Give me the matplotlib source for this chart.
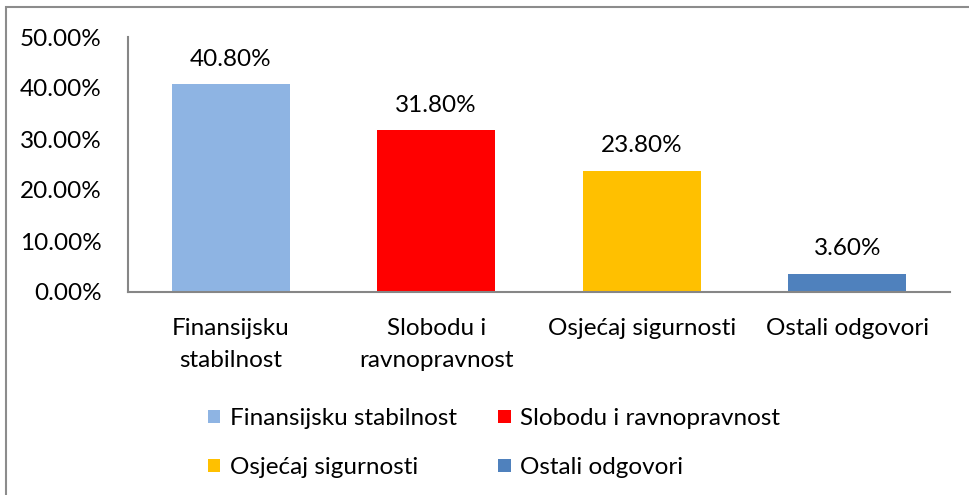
import matplotlib
matplotlib.use('Agg')
import matplotlib.pyplot as plt
from matplotlib.patches import Rectangle, Patch

categories = ['Finansijsku\nstabilnost', 'Slobodu i\nravnopravnost',
              'Osjećaj sigurnosti', 'Ostali odgovori']
legend_labels = ['Finansijsku stabilnost', 'Slobodu i ravnopravnost',
                 'Osjećaj sigurnosti', 'Ostali odgovori']
values = [40.8, 31.8, 23.8, 3.6]
colors = ['#8EB4E3', '#FF0000', '#FFC000', '#4F81BD']
yticks = [0, 10, 20, 30, 40, 50]

plt.rcParams['font.family'] = ['Lato', 'DejaVu Sans']
plt.rcParams['font.size'] = 17.5

fig = plt.figure(figsize=(9.69, 4.95), dpi=100)

# outer chart frame (cut off at the right and bottom)
fig.patches.append(Rectangle((6 / 969, -0.05), 1.0, 1 - 7 / 495 + 0.05,
                             transform=fig.transFigure, fill=False,
                             edgecolor='#8c8c8c', linewidth=1.5))

ax = fig.add_axes([128 / 969, 1 - 292 / 495, (950 - 128) / 969, (292 - 37) / 495])
x = range(len(values))
ax.bar(x, values, width=0.575, color=colors)

for i, v in enumerate(values):
    ax.text(i, v + 2.8, '%.2f%%' % v, ha='center', va='bottom')

ax.set_xlim(-0.5, len(values) - 0.5)
ax.set_ylim(0, 50)
ax.set_yticks(yticks)
ax.set_yticklabels(['%.2f%%' % t for t in yticks])
ax.set_xticks(list(x))
ax.set_xticklabels(categories, linespacing=1.6)
ax.tick_params(axis='both', length=0)
ax.tick_params(axis='y', pad=19)
ax.tick_params(axis='x', pad=19)

for side in ['top', 'right']:
    ax.spines[side].set_visible(False)
for side in ['left', 'bottom']:
    ax.spines[side].set_color('#868686')
    ax.spines[side].set_linewidth(1.5)

# legend is filled row by row in the reference
order = [0, 2, 1, 3]
handles = [Patch(facecolor=colors[i], edgecolor='none') for i in order]
fig.legend(handles, [legend_labels[i] for i in order], ncol=2, frameon=False,
           loc='upper left', bbox_to_anchor=(196 / 969, 1 - 396 / 495),
           handlelength=0.5, handleheight=0.5, handletextpad=0.4,
           columnspacing=1.7, labelspacing=1.15, borderpad=0)

plt.savefig('out.png', dpi=100)
